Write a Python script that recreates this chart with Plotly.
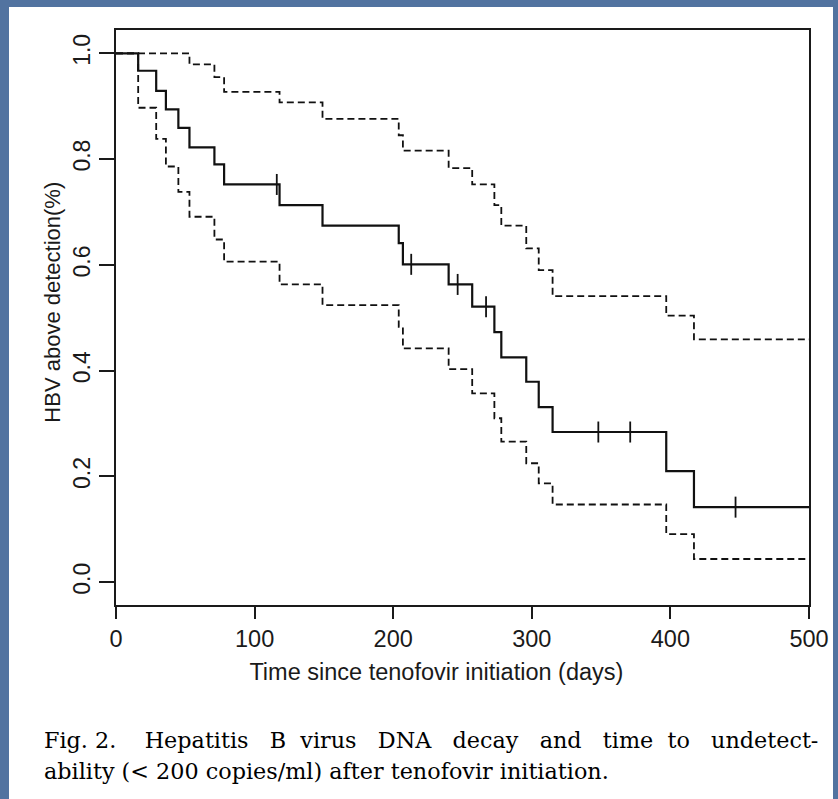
import numpy as np
import plotly.graph_objects as go

# ---- data (Kaplan-Meier estimate with 95% CI) ----
event_days = [16, 29, 36, 45, 53, 71, 78, 118, 149, 204, 207, 240, 257, 273, 278, 296, 305, 315, 397, 417]
survival   = [0.967, 0.929, 0.894, 0.859, 0.822, 0.790, 0.752, 0.713, 0.674, 0.641, 0.601,
              0.563, 0.521, 0.473, 0.425, 0.379, 0.331, 0.284, 0.210, 0.142]
upper_ci   = [1.0, 1.0, 1.0, 1.0, 0.979, 0.955, 0.927, 0.907, 0.876, 0.845, 0.816,
              0.783, 0.752, 0.713, 0.674, 0.631, 0.590, 0.541, 0.504, 0.459]
lower_ci   = [0.897, 0.838, 0.786, 0.738, 0.691, 0.648, 0.606, 0.563, 0.524, 0.483, 0.442,
              0.403, 0.357, 0.310, 0.266, 0.225, 0.187, 0.147, 0.091, 0.044]
censor_days = [116, 213, 246.5, 267, 348, 371, 447]

x_start, x_end = 0, 500
x_ticks = [0, 100, 200, 300, 400, 500]
y_ticks = [0.0, 0.2, 0.4, 0.6, 0.8, 1.0]
y_tick_text = ["0.0", "0.2", "0.4", "0.6", "0.8", "1.0"]

x_title = "Time since tenofovir initiation (days)"
y_title = "HBV above detection(%)"
caption_1_words = ["Fig. 2.", "Hepatitis", "B", "virus", "DNA", "decay", "and", "time", "to", "undetect-"]
caption_2 = "ability (&lt; 200 copies/ml) after tenofovir initiation."


def step_series(vals):
    xs = [x_start] + event_days + [x_end]
    ys = [1.0] + vals + [vals[-1]]
    return xs, ys


idx = np.searchsorted(np.array(event_days), np.array(censor_days), side="right") - 1
censor_y = [survival[i] if i >= 0 else 1.0 for i in idx]

fig = go.Figure()
dash_style = "7px,4px"
for vals in (upper_ci, lower_ci):
    xs, ys = step_series(vals)
    fig.add_trace(go.Scatter(x=xs, y=ys, mode="lines", line_shape="hv",
                             line=dict(color="#111111", width=1.8, dash=dash_style),
                             hoverinfo="skip", showlegend=False))
xs, ys = step_series(survival)
fig.add_trace(go.Scatter(x=xs, y=ys, mode="lines", line_shape="hv",
                         line=dict(color="#111111", width=2.2), showlegend=False))
fig.add_trace(go.Scatter(x=censor_days, y=censor_y, mode="markers",
                         marker=dict(symbol="line-ns", size=15,
                                     line=dict(color="#111111", width=1.8)),
                         showlegend=False))

L, R, T, B = 116, 29, 30, 194
W, H = 838, 799
pw, ph = W - L - R, H - T - B


def px_x(p):
    return (p - L) / pw


def px_y(p):
    return (H - B - p) / ph


sans = "Liberation Sans, Arial, sans-serif"
serif = "DejaVu Serif, serif"
nb = "&nbsp;"
# justified first caption line: widened word gaps
gaps = [" " + nb * 3, " " + nb * 2, " " + nb, " " + nb * 2, " " + nb * 2, " " + nb * 2,
        " " + nb * 2, " " + nb, " " + nb * 2]
caption_1 = caption_1_words[0]
for g, w in zip(gaps, caption_1_words[1:]):
    caption_1 += g + w

fig.update_layout(
    width=W, height=H,
    margin=dict(l=L, r=R, t=T, b=B, pad=0),
    paper_bgcolor="#5273a0",
    plot_bgcolor="white",
    font=dict(family=sans, size=23, color="#1a1a1a"),
    shapes=[dict(type="rect", xref="paper", yref="paper",
                 x0=px_x(9), x1=px_x(833), y0=px_y(799), y1=px_y(7),
                 fillcolor="white", line=dict(width=0), layer="below")],
    annotations=[
        dict(text=caption_1, xref="paper", yref="paper", x=px_x(42), y=px_y(740),
             xanchor="left", yanchor="middle", showarrow=False,
             font=dict(family=serif, size=22.3, color="#000000")),
        dict(text=caption_2, xref="paper", yref="paper", x=px_x(42), y=px_y(771),
             xanchor="left", yanchor="middle", showarrow=False,
             font=dict(family=serif, size=22.3, color="#000000")),
    ],
)
fig.update_xaxes(range=[x_start, x_end], tickvals=x_ticks, ticks="outside", ticklen=12,
                 tickwidth=2, tickcolor="#1a1a1a", showline=True, linewidth=2,
                 linecolor="#1a1a1a", mirror=True, showgrid=False, zeroline=False,
                 tickfont=dict(size=23.5),
                 title=dict(text=x_title + nb * 8, standoff=12,
                            font=dict(family=sans, size=23.5)),
                 automargin=False)
fig.update_yaxes(range=[-0.043, 1.044], tickvals=y_ticks, ticktext=y_tick_text,
                 tickangle=-90, ticks="outside", ticklen=15, tickwidth=2,
                 tickcolor="#1a1a1a", showline=True, linewidth=2, linecolor="#1a1a1a",
                 mirror=True, showgrid=False, zeroline=False,
                 tickfont=dict(size=23),
                 title=dict(text=nb * 5 + y_title, standoff=2,
                            font=dict(family=sans, size=22)),
                 automargin=False)

fig.write_html("out.html")
